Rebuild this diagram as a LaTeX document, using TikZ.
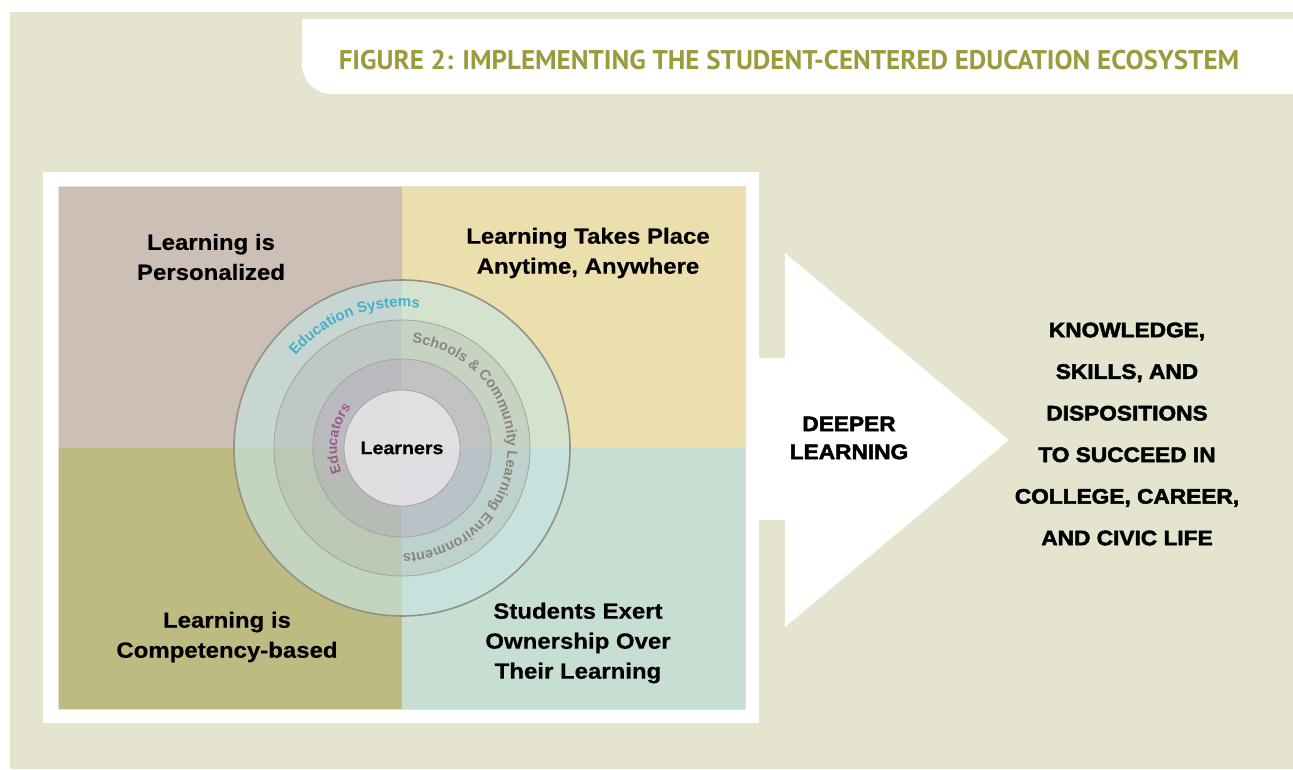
\documentclass[tikz,border=0pt]{standalone}
\usepackage{fontspec}
\setmainfont{Liberation Sans}
\newfontfamily\titlefont{PT Sans}
\newfontfamily\quadfont{Liberation Sans}[BoldFeatures={FakeBold=0.5,FakeStretch=1.09}]
\newfontfamily\heavyfont{Liberation Sans}[BoldFeatures={FakeBold=2.4,FakeStretch=1.08}]
\usetikzlibrary{decorations.text,calc}
\definecolor{bgbeige}{RGB}{229,228,206}
\definecolor{titleolive}{RGB}{155,154,60}
\definecolor{qTL}{RGB}{203,191,182}
\definecolor{qTR}{RGB}{235,224,173}
\definecolor{qBL}{RGB}{189,187,129}
\definecolor{qBR}{RGB}{199,222,211}
\definecolor{ringA}{RGB}{199,229,227}
\definecolor{ringB}{RGB}{150,150,150}
\definecolor{ringC}{RGB}{175,150,185}
\definecolor{ringD}{RGB}{229,228,231}
\definecolor{ringline}{RGB}{150,144,138}
\definecolor{edcyan}{RGB}{70,176,200}
\definecolor{schgray}{RGB}{140,133,126}
\definecolor{edpurple}{RGB}{155,90,140}
\begin{document}
\begin{tikzpicture}[x=1pt,y=1pt,
  quadlabel/.style={align=center,inner sep=0pt,font=\quadfont\bfseries\fontsize{22}{30}\selectfont},
  heavylabel/.style={align=center,inner sep=0pt},
  ringtext/.style={decorate},
  thinring/.style={draw=ringline!85,line width=0.8}]
\useasboundingbox (0,0) rectangle (1293,-769);
\fill[white] (0,0) rectangle (1293,-769);
\fill[bgbeige] (10,-12) rectangle (1293,-769);
% title tab
\fill[white] (302,-19) -- (1293,-19) -- (1293,-94) -- (332,-94)
  arc[start angle=270,end angle=180,radius=30] -- cycle;
\node[inner sep=0pt,text=titleolive,font=\titlefont\bfseries\fontsize{27}{30}\selectfont] (title) at (789,-60)
  {FIGURE 2: IMPLEMENTING THE STUDENT-CENTERED EDUCATION ECOSYSTEM};
% white frame and arrow
\fill[white] (43,-172) rectangle (759,-723);
\fill[white] (758,-358) rectangle (786,-520);
\fill[white] (785,-253) -- (1009,-440) -- (785,-627) -- cycle;
% quadrants
\fill[qTL] (58,-186) rectangle (402,-448);
\fill[qTR] (402,-186) rectangle (745,-448);
\fill[qBL] (58,-448) rectangle (402,-709);
\fill[qBR] (402,-448) rectangle (745,-709);
\draw[bgbeige,line width=1] (58,-186) rectangle (745,-709);
% circles
\coordinate (C) at (402,-448);
\fill[ringA,fill opacity=0.62] (C) circle[radius=168];
\fill[ringB,fill opacity=0.2] (C) circle[radius=128];
\fill[ringC,fill opacity=0.26] (C) circle[radius=89];
\fill[ringD,fill opacity=0.88] (C) circle[radius=58];
\draw[ringline,line width=1.6] (C) circle[radius=168];
\draw[thinring] (C) circle[radius=128];
\draw[thinring] (C) circle[radius=89];
\draw[thinring] (C) circle[radius=58];
% curved texts
\path[ringtext,decoration={text along path,text align=center,text color=edcyan,
  text={|\bfseries\fontsize{15}{15}\selectfont|Education Systems}}]
  ($(C)+(166:141)$) arc[start angle=166,end angle=56,radius=141];
\path[ringtext,decoration={text along path,text align=center,text color=schgray,
  text={|\bfseries\fontsize{14.5}{14.5}\selectfont|Schools {\&} Community Learning Environments}}]
  ($(C)+(97:105.5)$) arc[start angle=97,end angle=-102,radius=105.5];
\path[ringtext,decoration={text along path,text align=center,text color=edpurple,
  text={|\bfseries\fontsize{14}{14}\selectfont|Educators}}]
  ($(C)+(226:65)$) arc[start angle=226,end angle=117,radius=65];
\node[inner sep=0pt,font=\quadfont\bfseries\fontsize{18}{18}\selectfont] (learners) at (402,-448) {Learners};
% quadrant labels
\node[quadlabel] (q1) at (211,-257) {Learning is\\Personalized};
\node[quadlabel] (q2) at (588,-253) {Learning Takes Place\\Anytime, Anywhere};
\node[quadlabel] (q3) at (227,-637) {Learning is\\Competency-based};
\node[quadlabel] (q4) at (578,-643) {Students Exert\\Ownership Over\\Their Learning};
% arrow and outcome texts
\node[heavylabel,font=\heavyfont\bfseries\fontsize{21}{28}\selectfont] (deeper) at (849,-438) {DEEPER\\LEARNING};
\node[heavylabel,font=\heavyfont\bfseries\fontsize{21}{41.6}\selectfont] (outcome) at (1127,-434)
  {KNOWLEDGE,\\SKILLS, AND\\DISPOSITIONS\\TO SUCCEED IN\\COLLEGE, CAREER,\\AND CIVIC LIFE};
\end{tikzpicture}
\end{document}
